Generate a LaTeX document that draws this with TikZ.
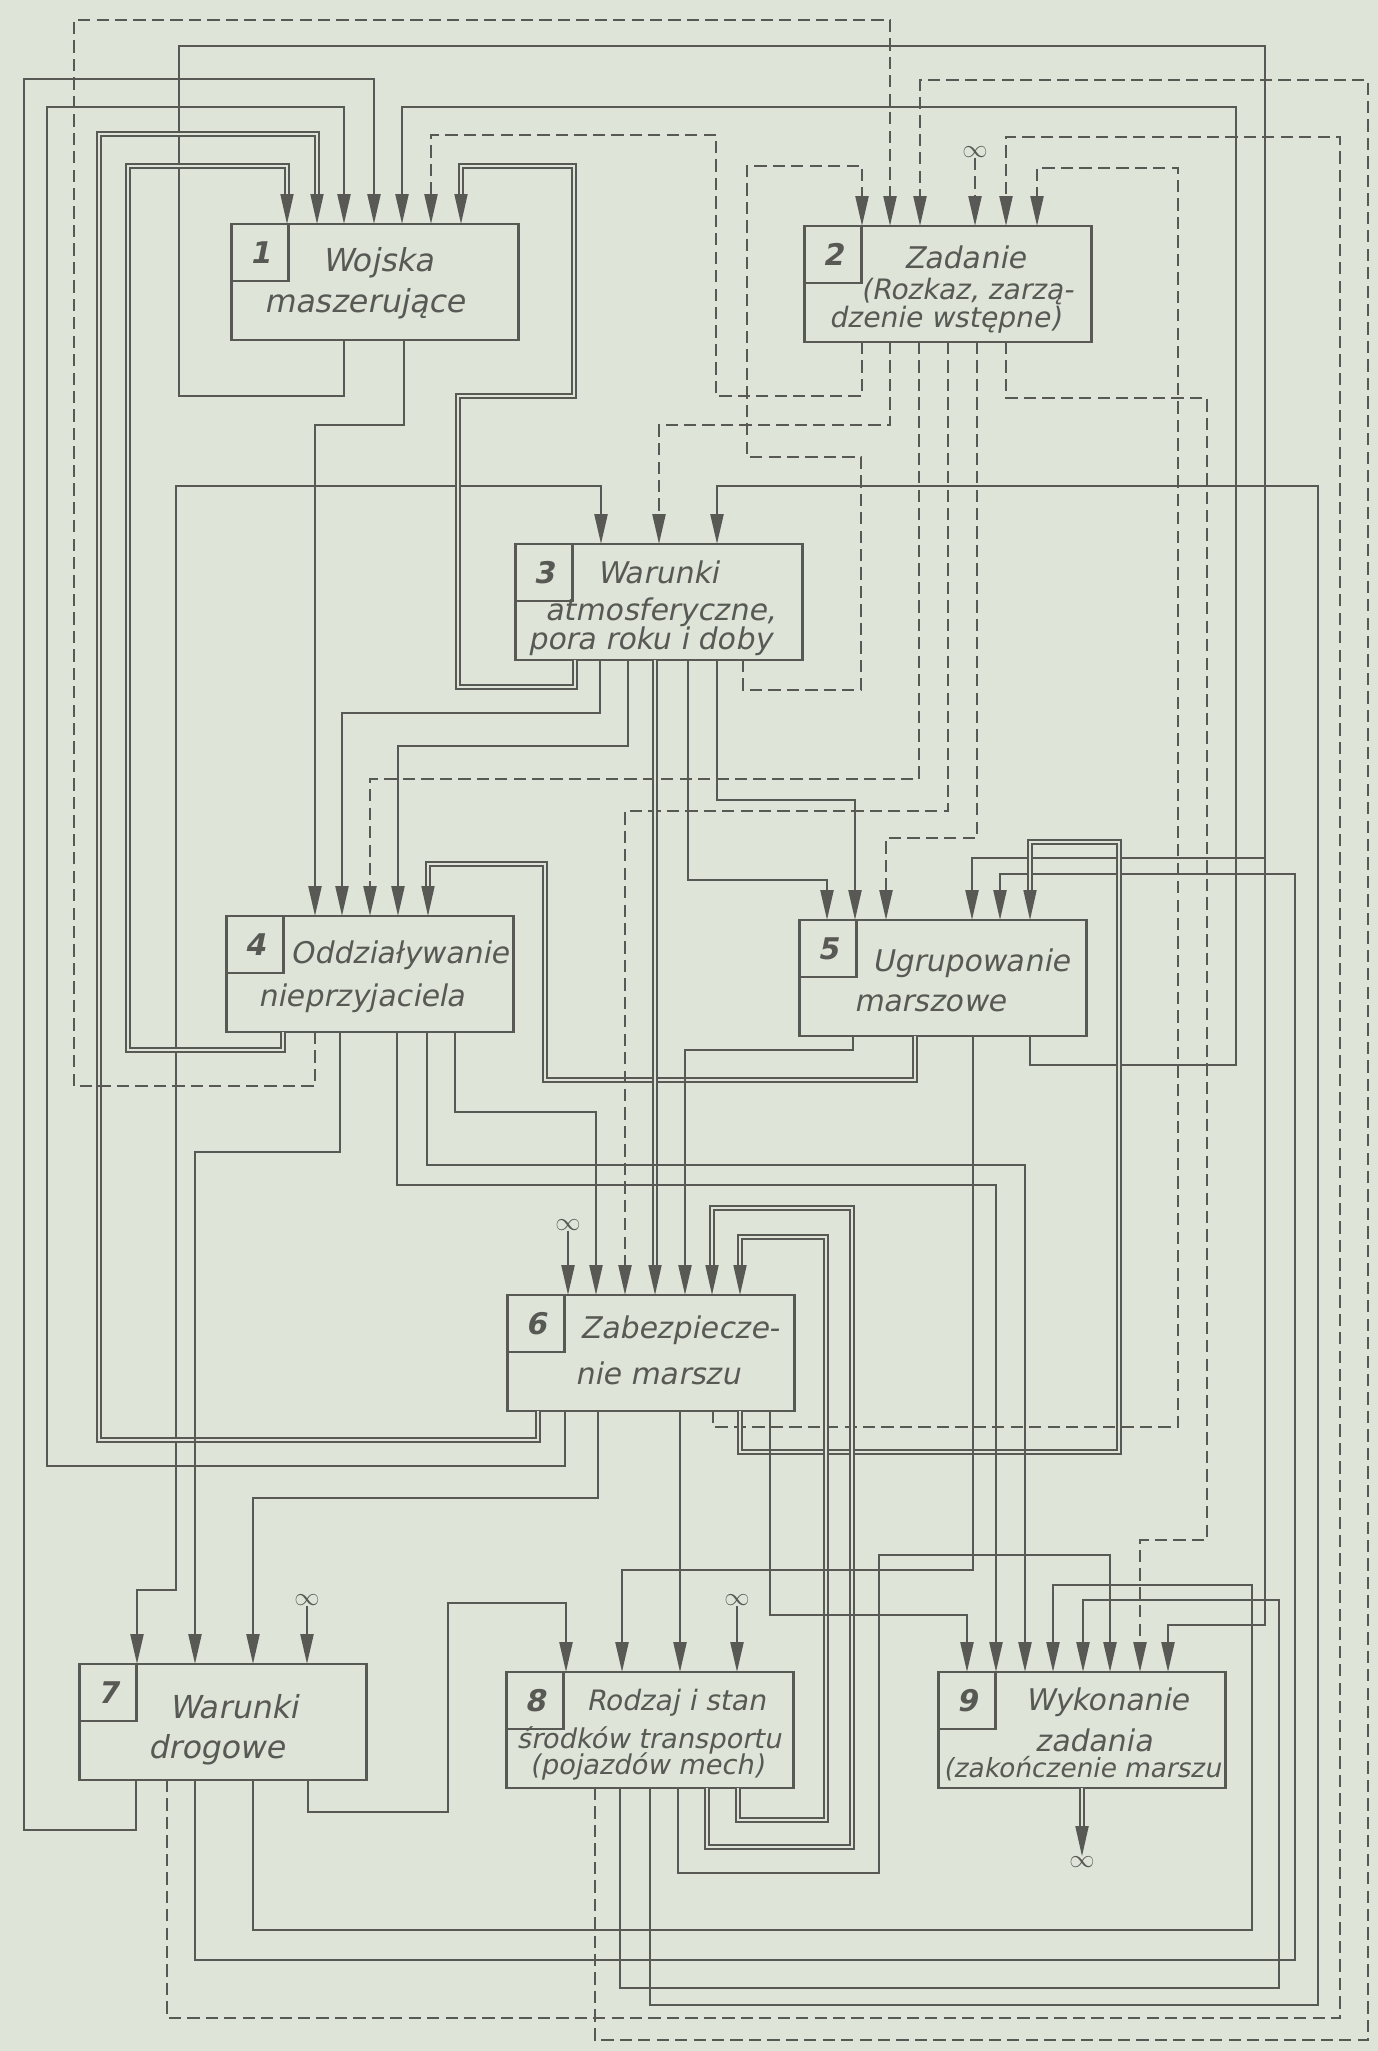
\documentclass[tikz,border=0pt]{standalone}
\usepackage{fontspec}
\usepackage{xcolor}
\usepackage{tikz}
\usetikzlibrary{arrows.meta}
\newfontfamily\hand{DejaVu Sans}[FakeSlant=0.2]
\definecolor{paperc}{HTML}{DEE4D8}
\definecolor{inkc}{HTML}{585954}
\tikzset{
  ln/.style={draw=inkc,line width=1.3pt},
  dl/.style={ln,dash pattern=on 7pt off 3.5pt},
  dbl/.style={draw=inkc,line width=1pt,double=paperc,double distance=1.5pt},
  ar/.style={-{Triangle[length=6mm,width=2.6mm]}},
  box/.style={draw=inkc,line width=1.6pt,fill=paperc,minimum width=5.74cm,minimum height=2.32cm,inner sep=0pt,outer sep=0pt},
  cell/.style={draw=inkc,line width=1.2pt,anchor=north west,minimum width=1.14cm,minimum height=1.14cm,inner sep=0pt,outer sep=0pt,text=inkc,font=\hand\bfseries\fontsize{17}{17}\selectfont},
  lbl/.style={inner sep=0pt,text=inkc},
  inf/.style={inner sep=0pt,text=inkc,font=\fontsize{15}{15}\selectfont}
}
\begin{document}
\begin{tikzpicture}[x=0.02cm,y=-0.02cm]
\useasboundingbox (0,0) rectangle (1378,2051);
\fill[paperc] (0,0) rectangle (1378,2051);
\foreach \nm/\cx/\cy/\nr in {b1/375/282/1,b2/948/284/2,b3/659/602/3,b4/370/974/4,b5/943/978/5,b6/651/1353/6,b7/223/1722/7,b8/650/1730/8,b9/1082/1730/9}{
  \node[box] (\nm) at (\cx,\cy) {};
  \node[cell] (n\nr) at (\nm.north west) {\nr};
}
\foreach \nm/\xx/\yy/\fs/\txt in {t1a/378/263/18/Wojska,t1b/365/304/18/maszerujące,
  t2a/965/257/17/Zadanie,t2b/967/292/16/{(Rozkaz, zarzą-},t2c/945/320/16/{dzenie wstępne)},
  t3a/658/572/17/Warunki,t3b/661/612/17/{atmosferyczne,},t3c/650/641/17/{pora roku i doby},
  t4a/400/955/17/Oddziaływanie,t4b/362/998/17/nieprzyjaciela,
  t5a/971/963/17/Ugrupowanie,t5b/930/1003/17/marszowe,
  t6a/680/1330/17/Zabezpiecze-,t6b/658/1373/17/{nie marszu},
  t7a/234/1707/18/Warunki,t7b/217/1750/18/drogowe,
  t8a/676/1703/16/{Rodzaj i stan},t8b/649/1740/15.5/{środków transportu},t8c/647/1766/15.5/{(pojazdów mech)},
  t9a/1107/1702/17/Wykonanie,t9b/1094/1740/17/zadania,t9c/1082/1769/15/{(zakończenie marszu}}{
  \node[lbl,font=\hand\fontsize{\fs}{\fs}\selectfont] (\nm) at (\xx,\yy) {\txt};
}
\coordinate (j1) at (315,486);
\coordinate (j2) at (1265,858);
% wyjscia bloku 1
\draw[ln,ar] (b1.south -| 404,0) |- (315,425) -- (b4.north -| 315,0);
\draw[ln,ar] (j1) -| (b3.north -| 601,0);
\draw[ln,ar] (j1) -| (176,1590) -| (b7.north -| 137,0);
\draw[ln] (b1.south -| 344,0) |- (179,396) |- (1265,46) -- (j2);
\draw[ln,ar] (j2) -| (b5.north -| 972,0);
\draw[ln,ar] (j2) |- (1168,1625) -- (b9.north -| 1168,0);
% do bloku 1
\draw[dbl,ar] (b4.south -| 283,0) |- (128,1050) |- (287,166) -- (b1.north -| 287,0);
\draw[dbl,ar] (b6.south -| 538,0) |- (99,1440) |- (317,134) -- (b1.north -| 317,0);
\draw[ln,ar] (b6.south -| 565,0) |- (47,1466) |- (344,107) -- (b1.north -| 344,0);
\draw[ln,ar] (b7.south -| 136,0) |- (24,1830) |- (374,79) -- (b1.north -| 374,0);
\draw[ln,ar] (b5.south -| 1030,0) |- (1236,1065) |- (402,107) -- (b1.north -| 402,0);
\draw[dl,ar] (b2.south -| 862,0) |- (716,396) |- (431,135) -- (b1.north -| 431,0);
\draw[dbl,ar] (b3.south -| 575,0) |- (458,687) |- (574,396) |- (461,166) -- (b1.north -| 461,0);
% do bloku 2
\draw[dl,ar] (b3.south -| 743,0) |- (861,690) |- (747,457) |- (862,166) -- (b2.north -| 862,0);
\draw[dl,ar] (b4.south -| 315,0) |- (74,1086) |- (890,20) -- (b2.north -| 890,0);
\draw[dl,ar] (b8.south -| 595,0) |- (1368,2040) |- (920,80) -- (b2.north -| 920,0);
\draw[dl,ar] (b7.south -| 167,0) |- (1340,2018) |- (1006,137) -- (b2.north -| 1006,0);
\draw[dl,ar] (b6.south -| 713,0) |- (1178,1427) |- (1037,168) -- (b2.north -| 1037,0);
% do bloku 3
\draw[dl,ar] (b2.south -| 890,0) |- (659,425) -- (b3.north -| 659,0);
\draw[ln,ar] (b8.south -| 650,0) |- (1318,2005) |- (717,486) -- (b3.north -| 717,0);
% do bloku 4
\draw[ln,ar] (b3.south -| 600,0) |- (342,713) -- (b4.north -| 342,0);
\draw[dl,ar] (b2.south -| 919,0) |- (370,779) -- (b4.north -| 370,0);
\draw[ln,ar] (b3.south -| 628,0) |- (398,746) -- (b4.north -| 398,0);
\draw[dbl,ar] (b5.south -| 915,0) |- (545,1080) |- (428,864) -- (b4.north -| 428,0);
% do bloku 5
\draw[ln,ar] (b3.south -| 688,0) |- (827,880) -- (b5.north -| 827,0);
\draw[ln,ar] (b3.south -| 717,0) |- (855,800) -- (b5.north -| 855,0);
\draw[dl,ar] (b2.south -| 977,0) |- (886,838) -- (b5.north -| 886,0);
\draw[ln,ar] (b7.south -| 195,0) |- (1295,1960) |- (1000,874) -- (b5.north -| 1000,0);
\draw[dbl,ar] (b6.south -| 740,0) |- (1119,1452) |- (1030,842) -- (b5.north -| 1030,0);
% do bloku 6
\draw[ln,ar] (b4.south -| 455,0) |- (596,1112) -- (b6.north -| 596,0);
\draw[dl,ar] (b2.south -| 948,0) |- (625,811) -- (b6.north -| 625,0);
\draw[dbl,ar] (b3.south -| 655,0) -- (b6.north -| 655,0);
\draw[ln,ar] (b5.south -| 853,0) |- (685,1050) -- (b6.north -| 685,0);
\draw[dbl,ar] (b8.south -| 707,0) |- (852,1847) |- (712,1208) -- (b6.north -| 712,0);
\draw[dbl,ar] (b8.south -| 738,0) |- (826,1820) |- (740,1237) -- (b6.north -| 740,0);
% do bloku 7
\draw[ln,ar] (b4.south -| 340,0) |- (195,1152) -- (b7.north -| 195,0);
\draw[ln,ar] (b6.south -| 598,0) |- (253,1498) -- (b7.north -| 253,0);
% do bloku 8
\draw[ln,ar] (b7.south -| 308,0) |- (448,1812) |- (566,1603) -- (b8.north -| 566,0);
\draw[ln,ar] (b5.south -| 973,0) |- (622,1570) -- (b8.north -| 622,0);
\draw[ln,ar] (b6.south -| 680,0) -- (b8.north -| 680,0);
% do bloku 9
\draw[ln,ar] (b6.south -| 770,0) |- (967,1615) -- (b9.north -| 967,0);
\draw[ln,ar] (b4.south -| 397,0) |- (996,1185) -- (b9.north -| 996,0);
\draw[ln,ar] (b4.south -| 427,0) |- (1025,1165) -- (b9.north -| 1025,0);
\draw[ln,ar] (b7.south -| 253,0) |- (1252,1930) |- (1053,1585) -- (b9.north -| 1053,0);
\draw[ln,ar] (b8.south -| 620,0) |- (1279,1988) |- (1083,1600) -- (b9.north -| 1083,0);
\draw[ln,ar] (b8.south -| 678,0) |- (879,1873) |- (1110,1555) -- (b9.north -| 1110,0);
\draw[dl,ar] (b2.south -| 1006,0) |- (1207,398) |- (1140,1540) -- (b9.north -| 1140,0);
% nieskonczonosc
\node[inf] (i2) at (975,152) {$\infty$};
\draw[dl,ar] (i2) -- (b2.north -| 975,0);
\foreach \nm/\xx/\yy/\bx in {i6/568/1225/b6,i7/307/1600/b7,i8/737/1600/b8}{
  \node[inf] (\nm) at (\xx,\yy) {$\infty$};
  \draw[ln,ar] (\nm) -- (\bx.north -| \xx,0);
}
\node[inf] (i9) at (1082,1862) {$\infty$};
\draw[dbl,ar] (b9.south -| 1082,0) -- (i9);
\end{tikzpicture}
\end{document}
